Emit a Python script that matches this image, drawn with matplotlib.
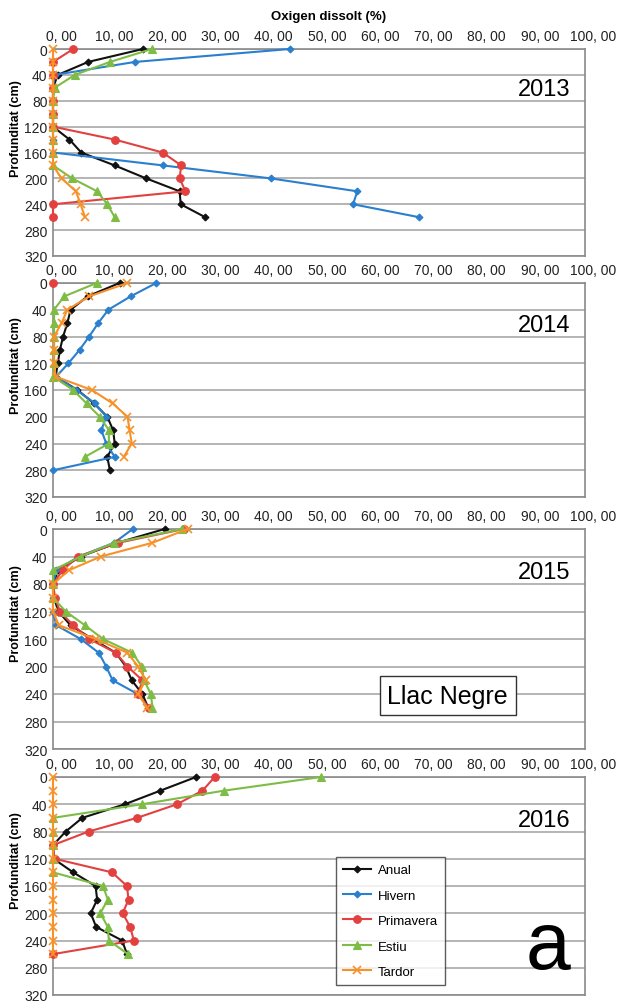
import matplotlib
matplotlib.use("Agg")
import matplotlib.pyplot as plt
import numpy as np
from matplotlib.transforms import ScaledTranslation

plt.rcParams['font.family'] = ['Liberation Sans', 'DejaVu Sans']

# depth (cm)
depth = [0, 20, 40, 60, 80, 100, 120, 140, 160, 180, 200, 220, 240, 260, 280]

# Oxigen dissolt (%) per any i estació
anual_2013 = [16.9, 6.6, 0.9, 0, 0, 0, 0, 3.1, 5.3, 11.6, 17.5, 23.8, 24.0, 28.6]
hivern_2013 = [44.5, 15.4, 0.3, 0, 0, 0, 0, 0, 0, 20.7, 40.9, 57.2, 56.4, 68.8]
primavera_2013 = [3.8, 0, 0, 0, 0, 0, 0, 11.6, 20.6, 24.1, 23.8, 24.9, 0, 0]
estiu_2013 = [18.6, 10.7, 4.1, 0.3, 0, 0, 0, 0, 0, 0, 3.6, 8.3, 10.2, 11.6]
tardor_2013 = [0, 0, 0, 0, 0, 0, 0, 0, 0, 0, 1.6, 4.3, 5.2, 6.0]

anual_2014 = [12.5, 6.5, 3.3, 2.7, 1.9, 1.3, 0.9, 0.5, 4.6, 7.7, 10.2, 11.3, 11.6, 10.2, 10.7]
hivern_2014 = [19.4, 14.6, 10.4, 8.5, 6.8, 5.0, 2.9, 0.6, 4.4, 7.9, 10.0, 9.1, 10.0, 11.6, 0]
primavera_2014 = [0]
estiu_2014 = [8.2, 2.1, 0.2, 0.2, 0.2, 0.2, 0.2, 0, 3.8, 6.3, 8.8, 10.5, 10.5, 6.0]
tardor_2014 = [14.0, 6.8, 2.7, 1.6, 0.2, 0.2, 0.2, 0.5, 7.3, 11.2, 14.0, 14.4, 14.8, 13.3]

anual_2015 = [21.0, 12.1, 5.2, 1.0, 0, 0.2, 1.0, 3.3, 7.4, 11.8, 13.7, 14.8, 16.8, 17.9]
hivern_2015 = [15.0, 11.5, 4.9, 0.6, 0, 0, 0, 0.6, 5.2, 8.6, 10.0, 11.2, 15.9, 18.0]
primavera_2015 = [24.6, 12.3, 4.7, 1.8, 0, 0.4, 1.3, 3.8, 6.8, 11.8, 14.0, 16.8, 16.0, 18.0]
estiu_2015 = [24.3, 11.5, 5.2, 0, 0, 0, 2.4, 6.0, 9.4, 14.9, 16.7, 17.1, 18.4, 18.7]
tardor_2015 = [25.3, 18.7, 9.0, 3.0, 0, 0, 0, 1.1, 8.0, 14.0, 16.0, 17.4, 16.0, 17.7]

anual_2016 = [26.9, 20.2, 13.5, 5.5, 2.4, 0, 0.1, 3.8, 8.0, 8.3, 7.1, 8.1, 13.0, 13.9]
hivern_2016 = []
primavera_2016 = [30.4, 28.1, 23.3, 15.8, 6.7, 0, 0.3, 11.1, 13.9, 14.2, 13.1, 14.5, 15.2, 0]
estiu_2016 = [50.4, 32.2, 16.7, 0, 0, 0, 0, 0, 9.4, 10.3, 8.9, 10.3, 10.5, 14.1]
tardor_2016 = [0, 0, 0, 0, 0, 0, 0, 0, 0, 0, 0, 0, 0, 0]

years = ['2013', '2014', '2015', '2016']
series_names = ['Anual', 'Hivern', 'Primavera', 'Estiu', 'Tardor']
data = {
    '2013': [anual_2013, hivern_2013, primavera_2013, estiu_2013, tardor_2013],
    '2014': [anual_2014, hivern_2014, primavera_2014, estiu_2014, tardor_2014],
    '2015': [anual_2015, hivern_2015, primavera_2015, estiu_2015, tardor_2015],
    '2016': [anual_2016, hivern_2016, primavera_2016, estiu_2016, tardor_2016],
}

colors = ['#111111', '#2a7fce', '#e2413f', '#7dbd45', '#f7922a']
markers = ['D', 'D', 'o', '^', 'x']
msizes = [3.5, 3.5, 5.5, 5.5, 6]

W, H = 617, 1003
fig = plt.figure(figsize=(W / 100, H / 100), dpi=100)

# axes boxes in pixels: (top, bottom)
boxes = [(50, 257), (284, 498), (530, 750), (778, 996)]
left_px, right_px = 53, 585

axes = []
for (top, bot), yr in zip(boxes, years):
    ax = fig.add_axes([left_px / W, 1 - bot / H, (right_px - left_px) / W, (bot - top) / H])
    axes.append(ax)
    for vals, c, m, ms, name in zip(data[yr], colors, markers, msizes, series_names):
        if len(vals) == 0:
            continue
        ax.plot(vals, depth[:len(vals)], color=c, marker=m, markersize=ms,
                linewidth=1.5, markeredgewidth=1.2 if m == 'x' else 0.8,
                label=name, clip_on=False, zorder=3)
    ax.set_xlim(0, 100)
    ax.set_ylim(320, 0)
    ax.set_xticks(np.arange(0, 101, 10))
    ax.set_xticklabels([f"{v:.2f}".replace('.', ', ') for v in np.arange(0, 101, 10)])
    ax.set_yticks(np.arange(0, 321, 40))
    ax.xaxis.tick_top()
    ax.tick_params(axis='x', length=0, pad=4, labelsize=10, colors='#222222')
    ax.tick_params(axis='y', length=0, pad=4, labelsize=10, colors='#222222')
    for lbl in ax.get_xticklabels():
        lbl.set_transform(lbl.get_transform() + ScaledTranslation(0.08, 0, fig.dpi_scale_trans))
    ax.grid(axis='y', color='#a8a8a8', linewidth=1.2)
    ax.set_axisbelow(True)
    for s in ax.spines.values():
        s.set_color('#8a8a8a')
        s.set_linewidth(1.2)
    ax.set_ylabel('Profunditat (cm)', fontsize=9, fontweight='bold')
    ax.yaxis.set_label_coords(-0.058, 0.62)
    ax.text(0.972, 0.805, yr, transform=ax.transAxes, ha='right', va='center', fontsize=17)

fig.text(329 / W, 1 - 17 / H, 'Oxigen dissolt (%)', ha='center', va='center',
         fontsize=9.5, fontweight='bold')

axes[2].text(0.742, 0.241, 'Llac Negre', transform=axes[2].transAxes, ha='center', va='center',
             fontsize=18, bbox=dict(boxstyle='square,pad=0.3', fc='white', ec='#333333', lw=1))

axes[3].text(0.93, 0.22, 'a', transform=axes[3].transAxes, ha='center', va='center', fontsize=58)

# legend with all five series
handles = [plt.Line2D([], [], color=c, marker=m, markersize=ms, linewidth=1.5,
                      markeredgewidth=1.2 if m == 'x' else 0.8)
           for c, m, ms in zip(colors, markers, msizes)]
leg = axes[3].legend(handles, series_names, loc='lower left', bbox_to_anchor=(0.532, 0.045),
                     fontsize=9.5, frameon=True, fancybox=False, edgecolor='#333333',
                     handlelength=2.1, handletextpad=0.5, labelspacing=1.0,
                     borderpad=0.55, borderaxespad=0)
leg.get_frame().set_linewidth(1.0)

fig.savefig('out.png', dpi=100)
